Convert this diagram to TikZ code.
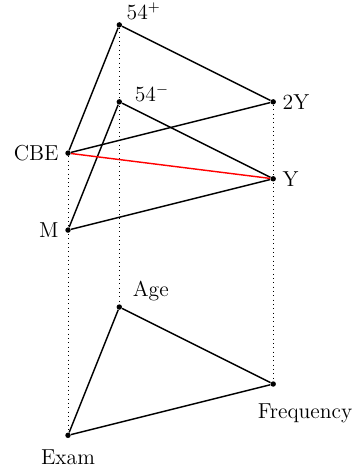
\documentclass[tikz,border=0pt]{standalone}
\begin{document}
\begin{tikzpicture}[
      every label/.style={font=\large},
      dot/.style={circle, fill=black, inner sep=0pt, minimum size=3pt},
      edge/.style={thick},
      guide/.style={dotted}
    ]
    \useasboundingbox (-1.3255,-0.676) rectangle (5.556,8.485);

    \node[dot, label={[yshift=-0.1cm]below:Exam}] (exam) at (0,0) {};
    \node[dot, label={[xshift=0.62cm, yshift=-0.2cm]below:Frequency}] (freq) at (4,1) {};
    \node[dot, label={[anchor=base west, xshift=0.08cm, yshift=0.2cm]right:Age}] (age) at (1,2.5) {};

    \node[dot, label={left:M}] (m) at (0,4) {};
    \node[dot, label={right:Y}] (y) at (4,5) {};
    \node[dot, label={left:CBE}] (cbe) at (0,5.5) {};
    \node[dot, label={right:2Y}] (twoy) at (4,6.5) {};
    \node[dot, label={[anchor=base west, xshift=0.12cm]right:$54^-$}] (minus) at (1,6.5) {};
    \node[dot, label={[anchor=base west, xshift=-0.04cm, yshift=0.11cm]right:$54^+$}] (plus) at (1,8) {};

    % projections
    \draw[guide] (cbe) -- (exam);
    \draw[guide] (plus) -- (age);
    \draw[guide] (twoy) -- (freq);

    \draw[edge] (plus) -- (cbe);
    \draw[edge] (plus) -- (twoy);
    \draw[edge] (minus) -- (m);
    \draw[edge] (minus) -- (y);
    \draw[edge] (cbe) -- (twoy);
    \draw[edge] (m) -- (y);
    \draw[edge, red] (cbe) -- (y);

    \draw[edge] (age) -- (exam);
    \draw[edge] (age) -- (freq);
    \draw[edge] (exam) -- (freq);

  \end{tikzpicture}
\end{document}
